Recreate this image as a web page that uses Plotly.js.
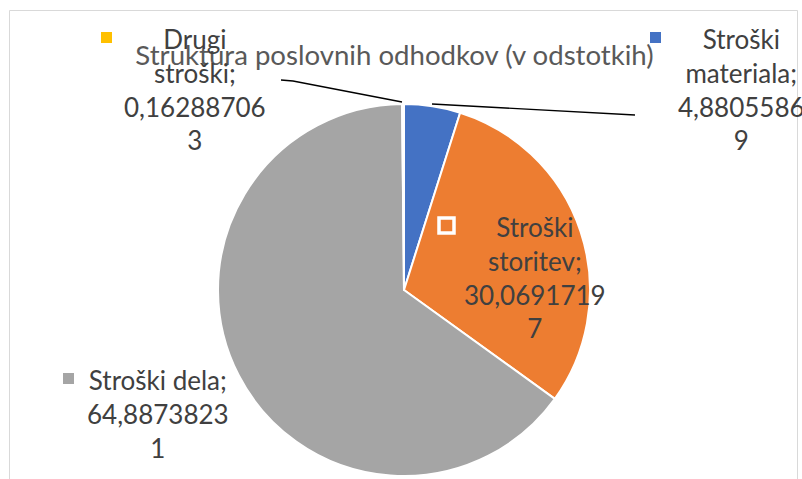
<!DOCTYPE html>
<html>
<head>
<meta charset="utf-8">
<script src="https://cdn.plot.ly/plotly-3.0.1.min.js"></script>
<style>html,body{margin:0;padding:0;background:#fff;}#chart{width:802px;height:479px;}</style>
</head>
<body>
<div id="chart"></div>
<script>
// ---- data ----
const labels = ['Stroški materiala', 'Stroški storitev', 'Stroški dela', 'Drugi stroški'];
const values = [4.88055869, 30.06917197, 64.88738231, 0.162887063];
const colors = ['#4472C4', '#ED7D31', '#A5A5A5', '#FFC000'];
const labelText = [
  'Stroški<br>materiala;<br>4,8805586<br>9',
  'Stroški<br>storitev;<br>30,0691719<br>7',
  'Stroški dela;<br>64,8873823<br>1',
  'Drugi<br>stroški;<br>0,16288706<br>3'
];
const titleText = 'Struktura poslovnih odhodkov (v odstotkih)';

// ---- layout helpers (pixel -> paper) ----
const W = 802, H = 479;
const px = x => x / W;
const py = y => 1 - y / H;

// label block centres (px)
const labelPos = [[741, 89], [535, 277], [158, 414], [195, 89]];
// legend key squares (px): x0,y0,x1,y1
const keyPos = [[650, 32, 661, 43], [439, 218, 454, 233], [63, 373, 74, 384], [101, 32, 112, 43]];

const FONT = 'Lato, Carlito, Calibri, sans-serif';

const annotations = labelText.map((t, i) => ({
  text: t, xref: 'paper', yref: 'paper',
  x: px(labelPos[i][0]), y: py(labelPos[i][1]),
  xanchor: 'center', yanchor: 'middle', align: 'center',
  showarrow: false, font: {family: FONT, size: 26, color: '#404040'}
}));

const shapes = [
  // chart border
  {type: 'rect', xref: 'paper', yref: 'paper', x0: px(9.5), x1: px(797.5), y0: -0.05, y1: py(10.5),
   line: {color: '#D9D9D9', width: 1}, fillcolor: 'rgba(0,0,0,0)', layer: 'below'},
  // leader lines
  {type: 'path', xref: 'paper', yref: 'paper',
   path: `M ${px(281)} ${py(80)} L ${px(293)} ${py(81)} L ${px(402)} ${py(102)}`,
   line: {color: '#000000', width: 1.3}},
  {type: 'path', xref: 'paper', yref: 'paper',
   path: `M ${px(432)} ${py(104)} L ${px(635)} ${py(115)}`,
   line: {color: '#000000', width: 1.3}}
];
keyPos.forEach((k, i) => {
  shapes.push({type: 'rect', xref: 'paper', yref: 'paper',
    x0: px(k[0]), x1: px(k[2]), y0: py(k[3]), y1: py(k[1]),
    fillcolor: colors[i], line: {color: i === 1 ? '#FFFFFF' : colors[i], width: i === 1 ? 3.5 : 0}});
});

const trace = {
  type: 'pie', labels: labels, values: values, sort: false,
  direction: 'clockwise', rotation: 0,
  marker: {colors: colors, line: {color: '#FFFFFF', width: 2}},
  textinfo: 'none', hoverinfo: 'label+value', showlegend: false,
  domain: {x: [px(217), px(591)], y: [py(476), py(104)]}
};

const layout = {
  width: W, height: H, margin: {l: 0, r: 0, t: 0, b: 0},
  paper_bgcolor: '#FFFFFF', showlegend: false,
  title: {text: titleText, xref: 'paper', yref: 'paper', x: px(394.5), y: py(55),
          xanchor: 'center', yanchor: 'middle',
          font: {family: FONT, size: 27.6, color: '#595959'}},
  annotations: annotations, shapes: shapes
};

Plotly.newPlot('chart', [trace], layout, {displayModeBar: false, staticPlot: true});
</script>
</body>
</html>
